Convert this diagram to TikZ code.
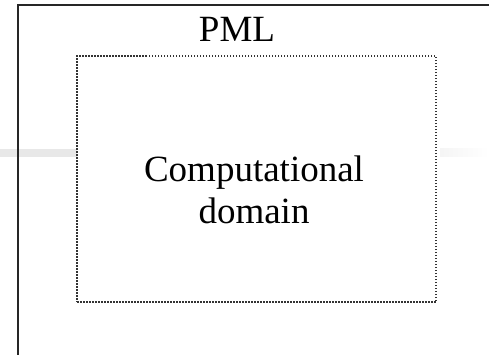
\documentclass[tikz,border=0pt]{standalone}
\usepackage{fontspec}
\setmainfont{Liberation Serif}
\begin{document}
\begin{tikzpicture}[x=1pt,y=-1pt,
  frame/.style={draw=black!85,line width=2pt},
  domainbox/.style={draw=black!80,line width=1.6pt,dash pattern=on 1.5pt off 1.5pt},
  lbl/.style={font=\fontsize{37}{42}\selectfont,align=center,inner sep=0pt}]
\useasboundingbox (0,0) rectangle (489,354);
\fill[black!9] (0,148.5) rectangle (77,156.5);
\shade[left color=black!4,right color=white] (440,148.5) rectangle (489,156.5);
\coordinate (tl) at (18,5);
\coordinate (tr) at (492,5);
\coordinate (bl) at (18,358);
\draw[frame] (tr) -- (tl) -- (bl);
\node[domainbox,minimum width=359,minimum height=246,inner sep=0pt] (dom) at (256.5,179) {};
\node[lbl,anchor=base] (pml) at (237,41.5) {PML};
\node[lbl] (ct) at (254,190) {Computational\\domain};
\end{tikzpicture}
\end{document}
